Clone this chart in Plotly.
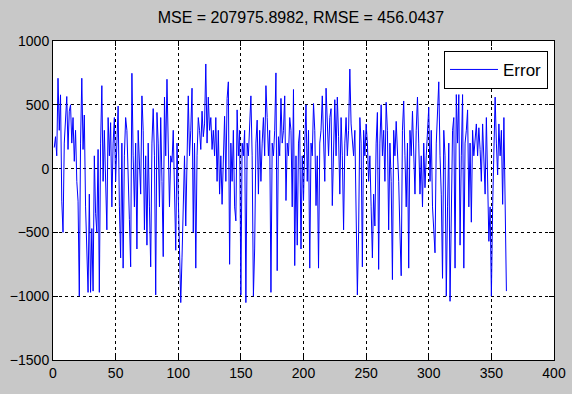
import plotly.graph_objects as go

title_text = "MSE = 207975.8982, RMSE = 456.0437"
series_name = "Error"

error_values = [
    165, 250, 100, 708, 300, 578, -255, -500, 200, 350,
    565, 150, 450, 500, 200, 400, 57, 300, -100, -255,
    -1000, 200, 708, 150, 420, -300, -600, -970, -200, -970,
    -470, -960, 100, -350, -500, 150, -970, 200, 650, -100,
    300, -200, -480, 400, 100, 360, -300, 200, 400, -100,
    200, 490, -300, -700, 200, -780, 100, 400, 300, -200,
    -400, -770, 747, 100, -300, 200, -630, 300, 100, -200,
    570, 300, -480, 100, -600, 200, -300, -770, 200, 470,
    100, -990, 440, 200, -300, 400, -100, -690, 560, 100,
    700, 200, -300, 100, 50, 300, -200, -640, 200, -150,
    -600, -1050, -700, -200, 100, -450, 200, 570, 100, 300,
    630, -500, 200, -780, 100, 400, 300, 150, 450, 250,
    350, 820, 200, 560, 300, 400, 150, 300, 100, 400,
    -100, 300, -200, 100, -280, 200, 410, -100, 550, 680,
    -750, 200, -100, 300, -300, -410, 460, 100, 300, -990,
    200, 100, 300, -1050, 200, 100, 300, 570, 100, -1000,
    -630, 200, 380, -200, 300, -100, 200, 400, 100, 650,
    400, 100, 300, -970, 200, 100, 300, 750, -800, 250,
    100, 550, 200, 300, 570, -250, 200, 100, 400, 300,
    -300, 620, -760, 100, -600, 200, 300, -630, 100, -250,
    200, 500, -100, 300, -780, 200, 100, 510, 300, -290,
    100, -780, 200, 300, 570, 100, -100, 630, 300, 100,
    400, 470, -290, 200, 540, 100, 560, 250, -200, 400,
    100, -480, 200, 400, 100, 300, 780, 350, 200, 100,
    300, -200, -990, -500, 400, 200, -770, 300, 100, 350,
    200, -100, 100, -300, -700, -200, -450, 200, 440, -790,
    200, 500, 100, 300, -100, 520, 300, -480, 200, -100,
    -870, 300, 100, 370, 150, -100, -500, -840, 300, 530,
    100, -300, 200, -780, 300, 100, 450, 200, -200, 300,
    560, 200, -200, 100, -300, 200, -150, 100, 300, 480,
    -100, 300, -300, -450, -660, 200, 400, 680, 100, -200,
    -860, 300, 100, -1000, -300, 200, -1040, -200, 300, 400,
    -780, 580, 200, 580, -600, 100, 580, -780, 200, 300,
    460, -300, 200, -420, 300, 100, 250, 350, 100, 320,
    150, -100, 350, 100, -200, 400, -100, -570, -300, -1000,
    -300, 300, 560, 200, -50, 350, 100, 300, -280, 400,
    -350, -960,
]
sample_index = list(range(1, len(error_values) + 1))

x_ticks = [0, 50, 100, 150, 200, 250, 300, 350, 400]
y_ticks = [-1500, -1000, -500, 0, 500, 1000]

font_family = "Liberation Sans Narrow, Arial Narrow, Liberation Sans, Arial, sans-serif"

fig = go.Figure()
fig.add_trace(go.Scatter(
    x=sample_index, y=error_values, mode="lines", name=series_name,
    line=dict(color="#0000ff", width=1),
))

axis_common = dict(
    showline=True, linecolor="black", linewidth=1, mirror="ticks",
    ticks="inside", ticklen=5, tickcolor="black",
    showgrid=True, gridcolor="black", gridwidth=1, griddash="3px,3px",
    zeroline=False, automargin=False,
    tickfont=dict(family=font_family, size=14, color="black"),
)

fig.update_layout(
    width=572, height=394,
    paper_bgcolor="#c8c8c8", plot_bgcolor="white",
    margin=dict(l=53, r=18, t=41, b=34, autoexpand=False),
    title=dict(text=title_text, x=0.526, xanchor="center", y=0.955, yanchor="middle",
               font=dict(family=font_family, size=16, color="black")),
    showlegend=True,
    legend=dict(x=0.988, xanchor="right", y=0.969, yanchor="top",
                bgcolor="white", bordercolor="black", borderwidth=1,
                itemwidth=48,
                font=dict(family=font_family, size=17, color="black")),
    xaxis=dict(range=[0, 400], tickvals=x_ticks, **axis_common),
    yaxis=dict(range=[-1500, 1000], tickvals=y_ticks, **axis_common),
)

fig.write_html(
    "out.html",
    config={"displayModeBar": False},
    post_script="document.body.style.margin='0';document.body.style.overflow='hidden';",
)
